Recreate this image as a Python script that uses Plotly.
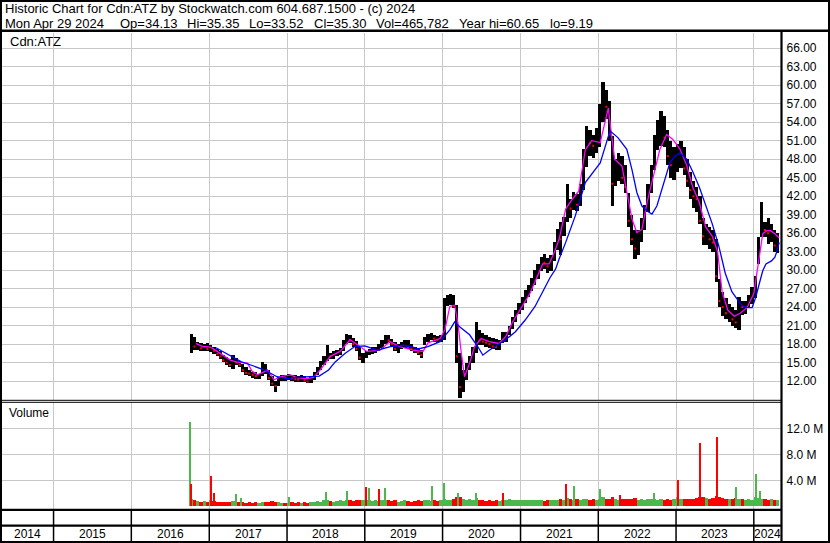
import pandas as pd
import plotly.graph_objects as go

W, H = 830, 543
FONT = "Arial, Liberation Sans, sans-serif"
GRID = "#c8c8c8"

def px(x):
    return x / W

def py(y):
    return 1 - y / H

# ---------------- data ----------------
title_line1 = "Historic Chart for Cdn:ATZ by Stockwatch.com 604.687.1500 - (c) 2024"
title_fields = ["Mon Apr 29 2024", "Op=34.13", "Hi=35.35", "Lo=33.52", "Cl=35.30", "Vol=465,782", "Year hi=60.65", "lo=9.19"]
title_field_x = [3, 118, 185, 247, 312, 374, 457, 548]   # pixel starts of each field (layout)
symbol = "Cdn:ATZ"

years = list(range(2014, 2025))
x_range = ["2014-05-04", "2024-05-10"]
price_ticks = [12, 15, 18, 21, 24, 27, 30, 33, 36, 39, 42, 45, 48, 51, 54, 57, 60, 63, 66]
volume_ticks = [4, 8, 12]
volume_tick_text = ["4.0 M", "8.0 M", "12.0 M"]

# semi-monthly periods, Oct 2016 .. Apr 2024
period_start = pd.date_range("2016-10-01", "2024-04-15", freq="SMS")
last_period_end = pd.Timestamp("2024-04-30")

high = [
    19.6, 19.2, 18.3, 18.1, 18.0, 18.1,
    17.9, 17.5, 17.2, 16.8, 16.3, 15.9, 15.6, 16.2, 15.8, 15.3, 14.8, 14.2, 13.8, 13.5, 13.4, 13.2, 15.1, 14.8, 13.8, 12.8, 12.0, 12.7, 13.0, 13.0,
    13.2, 13.0, 12.9, 12.8, 12.9, 12.8, 12.5, 12.6, 13.4, 14.2, 15.2, 16.0, 17.8, 16.6, 16.8, 17.0, 17.4, 18.6, 19.7, 19.4, 19.0, 18.5, 17.6, 16.6,
    16.9, 17.2, 17.5, 17.6, 18.0, 18.6, 19.5, 19.4, 18.9, 18.3, 18.0, 18.4, 18.6, 18.6, 18.0, 17.6, 17.4, 17.0, 19.2, 19.6, 19.8, 19.5, 19.3, 19.5,
    25.4, 26.0, 26.2, 26.0, 24.4, 16.5, 13.8, 15.0, 16.0, 17.6, 21.6, 20.2, 19.8, 19.4, 19.2, 19.0, 18.8, 18.6, 20.0, 20.0, 21.0, 22.4, 23.6, 24.6,
    25.6, 26.8, 27.6, 28.8, 30.0, 31.0, 32.2, 32.6, 32.0, 32.4, 34.6, 36.6, 37.8, 38.6, 43.9, 41.6, 42.6, 42.4, 44.0, 49.6, 53.4, 52.8, 52.0, 53.0,
    57.0, 60.6, 59.3, 57.5, 51.7, 48.0, 49.0, 48.5, 47.0, 42.5, 39.0, 36.5, 36.5, 38.5, 40.5, 44.0, 47.0, 52.0, 54.4, 55.8, 55.0, 52.8, 51.0, 50.0,
    50.5, 51.0, 50.0, 48.0, 46.0, 44.5, 43.5, 42.0, 38.5, 37.5, 37.0, 36.5, 35.0, 28.5, 26.5, 25.5, 24.5, 24.0, 23.5, 25.7, 25.0, 25.0, 26.0, 27.3,
    29.0, 35.4, 41.1, 37.8, 38.5, 37.5, 36.5, 36.0,
]
low = [
    16.6, 17.0, 17.1, 16.9, 16.9, 16.8,
    16.7, 16.4, 16.0, 15.6, 15.1, 14.6, 14.2, 14.0, 14.6, 14.2, 13.5, 12.9, 12.8, 12.5, 12.4, 12.3, 12.8, 13.2, 12.2, 11.2, 10.3, 11.2, 12.0, 12.0,
    12.2, 12.0, 11.9, 11.8, 11.9, 11.8, 11.6, 11.6, 12.2, 13.0, 13.8, 14.6, 15.2, 15.5, 15.6, 16.0, 16.3, 16.9, 18.0, 18.2, 17.6, 16.8, 15.4, 14.9,
    15.8, 16.2, 16.4, 16.6, 16.8, 17.3, 18.0, 18.2, 17.6, 16.8, 16.6, 17.2, 17.4, 17.2, 16.8, 16.5, 16.2, 15.8, 17.8, 18.4, 18.6, 18.4, 18.2, 18.3,
    18.6, 24.2, 24.4, 23.8, 15.0, 9.2, 10.2, 12.2, 13.8, 15.0, 16.6, 17.8, 17.8, 17.6, 17.4, 17.2, 17.0, 17.0, 18.2, 18.4, 19.4, 20.4, 21.6, 22.8,
    23.6, 24.6, 25.6, 26.6, 27.6, 28.6, 29.8, 30.2, 29.6, 29.8, 31.4, 33.2, 32.4, 35.6, 37.8, 38.4, 39.8, 39.6, 40.4, 43.0, 46.8, 48.6, 48.2, 49.0,
    50.0, 54.0, 54.5, 51.0, 40.4, 43.6, 44.5, 44.0, 42.5, 37.0, 34.0, 31.8, 32.5, 34.5, 36.5, 39.5, 42.5, 46.3, 49.5, 50.1, 50.0, 47.0, 45.0, 44.7,
    46.0, 46.5, 45.5, 43.5, 41.5, 40.0, 39.5, 37.5, 34.0, 34.0, 33.5, 33.0, 28.0, 24.0, 22.5, 22.0, 21.5, 21.0, 20.6, 20.3, 22.7, 22.8, 24.0, 24.5,
    25.5, 31.0, 35.4, 35.4, 34.2, 34.5, 33.0, 32.8,
]
close = [
    18.4, 17.6, 17.6, 17.3, 17.5, 17.2,
    17.2, 16.9, 16.4, 16.0, 15.4, 15.0, 14.6, 15.5, 15.0, 14.6, 13.8, 13.3, 13.2, 13.0, 12.8, 12.9, 14.3, 13.6, 12.5, 11.6, 11.2, 12.4, 12.6, 12.5,
    12.8, 12.4, 12.3, 12.2, 12.4, 12.1, 11.9, 12.3, 13.1, 14.0, 14.9, 15.6, 16.2, 16.0, 16.3, 16.6, 17.1, 18.2, 19.0, 18.6, 18.0, 17.2, 15.8, 16.2,
    16.5, 16.9, 17.0, 17.2, 17.6, 18.2, 19.0, 18.6, 18.0, 17.2, 17.6, 17.9, 18.1, 17.5, 17.2, 17.0, 16.6, 16.2, 18.8, 19.1, 19.2, 18.9, 18.7, 19.0,
    24.8, 25.2, 25.6, 24.2, 16.0, 11.0, 12.8, 14.4, 15.4, 16.8, 19.0, 18.6, 18.4, 18.2, 18.0, 17.6, 17.5, 17.8, 19.0, 19.6, 20.6, 22.0, 23.2, 24.2,
    25.0, 26.2, 27.0, 28.2, 29.2, 30.4, 31.6, 31.2, 30.6, 31.8, 33.8, 35.8, 35.0, 38.0, 40.6, 40.0, 41.2, 40.6, 43.2, 48.6, 51.0, 50.6, 50.2, 51.6,
    56.0, 57.5, 56.5, 52.0, 44.0, 46.5, 47.0, 45.0, 43.5, 38.0, 35.0, 33.5, 35.0, 37.5, 39.5, 43.0, 46.0, 50.5, 52.5, 53.5, 51.5, 48.5, 47.0, 48.0,
    48.5, 49.0, 46.5, 44.5, 43.0, 42.0, 41.5, 38.0, 35.5, 36.0, 35.0, 34.5, 29.0, 25.0, 24.0, 23.0, 23.5, 22.0, 21.5, 24.5, 24.0, 24.2, 25.5, 26.8,
    28.0, 34.5, 38.5, 36.5, 36.0, 36.5, 34.0, 35.3,
]
# typical daily volume per period (millions)
volume = [
    1.2, 0.9, 0.8, 0.7, 0.8, 0.6,
    0.9, 0.8, 0.7, 0.6, 0.6, 0.7, 0.6, 0.8, 0.6, 0.7, 0.6, 0.5, 0.6, 0.5, 0.6, 0.5, 0.7, 0.6, 0.6, 0.8, 0.7, 0.6, 0.5, 0.5,
    0.5, 0.6, 0.5, 0.6, 0.5, 0.6, 0.5, 0.6, 0.7, 0.8, 0.7, 0.9, 1.0, 0.8, 0.7, 0.8, 0.9, 0.8, 1.0, 0.9, 0.8, 0.9, 1.0, 0.9,
    1.0, 0.9, 0.8, 0.9, 0.8, 0.9, 1.0, 0.9, 0.8, 0.9, 0.7, 0.8, 0.9, 0.8, 0.7, 0.8, 0.9, 0.8, 1.0, 0.9, 0.8, 0.9, 0.8, 0.9,
    1.2, 1.0, 0.9, 1.1, 1.4, 1.5, 1.2, 1.0, 1.1, 1.0, 1.3, 1.0, 0.9, 0.8, 0.9, 0.8, 0.9, 0.8, 0.9, 1.0, 1.1, 1.0, 0.9, 1.0,
    1.0, 0.9, 1.0, 0.9, 1.0, 0.9, 1.0, 0.8, 0.9, 1.0, 0.9, 1.0, 1.1, 1.0, 1.3, 1.1, 1.0, 1.1, 1.0, 1.2, 1.1, 1.0, 1.1, 1.0,
    1.2, 1.4, 1.1, 1.2, 1.4, 1.1, 1.0, 1.1, 1.2, 1.1, 1.2, 1.3, 1.0, 1.1, 1.0, 1.1, 1.2, 1.1, 1.0, 1.1, 1.0, 1.1, 1.0, 1.1,
    1.4, 1.2, 1.1, 1.2, 1.1, 1.2, 1.3, 1.5, 1.4, 1.3, 1.2, 1.3, 1.6, 1.5, 1.3, 1.2, 1.1, 1.2, 1.3, 1.2, 1.1, 1.0, 1.1, 1.0,
    1.5, 1.3, 1.2, 1.1, 1.0, 1.1, 1.0, 1.0,
]
# single-day volume spikes
spike_dates = ["2016-10-03", "2016-10-06", "2017-01-10", "2017-01-24", "2017-05-05", "2017-06-01",
               "2018-01-10", "2018-07-05", "2018-10-10", "2019-01-05", "2019-01-20", "2019-03-10",
               "2019-04-05", "2019-11-15", "2020-01-10", "2020-03-15", "2020-06-05", "2020-10-10",
               "2021-08-05", "2021-09-10", "2022-01-10", "2022-04-15", "2022-09-20", "2023-01-10",
               "2023-04-25", "2023-07-13", "2023-10-10", "2024-01-12", "2024-01-30"]
spike_volume = [13.0, 3.4, 4.6, 2.1, 1.9, 1.3,
                1.5, 2.2, 2.3, 3.0, 2.8, 2.6,
                2.8, 3.2, 3.6, 2.1, 2.0, 2.0,
                3.4, 3.1, 2.7, 1.8, 2.1, 4.0,
                9.8, 10.7, 3.0, 5.0, 2.4]
spike_up = [True, False, False, False, True, True,
            True, True, True, False, True, False,
            True, True, True, True, True, False,
            False, True, True, False, True, False,
            False, False, True, True, True]

ma_short_dates = ["2016-10-30", "2016-12-01", "2017-01-08", "2017-02-10", "2017-03-11", "2017-04-10", "2017-05-05",
                  "2017-06-01", "2017-06-30", "2017-07-20", "2017-08-15", "2017-09-10", "2017-10-01", "2017-11-01",
                  "2017-12-02", "2018-01-18", "2018-02-20", "2018-04-05", "2018-05-05", "2018-06-06", "2018-07-23",
                  "2018-09-07", "2018-10-24", "2018-12-09", "2019-01-10", "2019-02-10", "2019-03-13", "2019-04-29",
                  "2019-06-14", "2019-08-15", "2019-10-01", "2019-10-25", "2019-12-02", "2019-12-20", "2020-01-12",
                  "2020-02-04", "2020-02-27", "2020-03-13", "2020-03-29", "2020-04-13", "2020-05-07", "2020-05-30",
                  "2020-06-30", "2020-08-07", "2020-09-22", "2020-10-23", "2020-11-22", "2020-12-30", "2021-02-14",
                  "2021-03-15", "2021-04-15", "2021-05-15", "2021-06-10", "2021-07-01", "2021-08-01", "2021-09-01",
                  "2021-10-01", "2021-11-01", "2021-12-01", "2022-01-10", "2022-02-17", "2022-03-05", "2022-03-19",
                  "2022-04-22", "2022-05-15", "2022-06-08", "2022-07-01", "2022-07-25", "2022-08-18", "2022-09-16",
                  "2022-10-17", "2022-11-18", "2022-12-17", "2023-01-20", "2023-02-20", "2023-03-20", "2023-04-20",
                  "2023-05-20", "2023-06-20", "2023-07-15", "2023-08-05", "2023-09-01", "2023-10-01", "2023-10-29",
                  "2023-11-30", "2024-01-01", "2024-01-26", "2024-02-12", "2024-03-01", "2024-03-20", "2024-04-09",
                  "2024-04-29"]
ma_short = [18.1, 17.6, 17.5, 16.7, 16.0, 15.4, 15.1,
            15.0, 14.9, 13.6, 13.0, 13.4, 13.8, 12.2,
            12.7, 13.0, 12.5, 12.4, 12.6, 13.8, 16.0,
            16.8, 18.7, 17.6, 16.8, 16.9, 17.0, 18.4,
            17.6, 17.0, 16.8, 18.2, 18.7, 18.9, 20.3,
            24.1, 24.3, 21.4, 16.5, 12.7, 14.9, 17.6,
            18.9, 18.4, 18.1, 19.2, 21.4, 23.5, 26.2,
            28.5, 31.0, 31.0, 33.0, 35.0, 39.9, 41.5,
            42.8, 49.5, 51.0, 50.7, 56.3, 51.7, 48.0,
            46.9, 42.6, 38.3, 36.1, 36.6, 41.0, 45.3,
            49.6, 52.0, 51.2, 49.6, 47.0, 43.5, 41.0,
            37.0, 35.5, 33.0, 26.5, 23.5, 22.5, 23.0,
            23.9, 26.2, 32.0, 35.9, 36.4, 36.4, 35.9,
            35.2]

ma_long_dates = ["2017-02-01", "2017-04-01", "2017-06-01", "2017-07-15", "2017-09-15", "2017-11-15", "2018-01-01",
                 "2018-02-15", "2018-05-01", "2018-06-01", "2018-07-15", "2018-08-15", "2018-10-01", "2018-11-15",
                 "2019-01-01", "2019-03-01", "2019-05-01", "2019-07-01", "2019-08-15", "2019-09-08", "2019-10-24",
                 "2019-12-20", "2020-02-04", "2020-02-27", "2020-03-21", "2020-05-07", "2020-06-14", "2020-07-08",
                 "2020-08-07", "2020-09-22", "2020-10-23", "2020-12-08", "2021-01-23", "2021-03-10", "2021-04-15",
                 "2021-05-20", "2021-06-15", "2021-07-01", "2021-08-01", "2021-09-15", "2021-11-01", "2022-01-10",
                 "2022-02-25", "2022-04-03", "2022-05-15", "2022-06-08", "2022-07-01", "2022-07-25", "2022-08-18",
                 "2022-09-10", "2022-10-03", "2022-11-01", "2022-12-03", "2022-12-27", "2023-01-20", "2023-02-20",
                 "2023-03-20", "2023-04-20", "2023-05-20", "2023-06-20", "2023-07-20", "2023-08-20", "2023-09-20",
                 "2023-10-29", "2023-11-14", "2023-11-30", "2023-12-24", "2024-01-10", "2024-01-26", "2024-02-12",
                 "2024-02-27", "2024-03-24", "2024-04-09", "2024-04-19", "2024-04-29"]
ma_long = [17.4, 16.2, 15.1, 14.6, 13.8, 12.7, 12.4,
           12.6, 12.7, 12.8, 13.8, 15.1, 16.5, 17.6,
           17.7, 17.0, 17.6, 17.8, 17.5, 17.2, 17.6,
           18.4, 20.3, 21.6, 20.8, 19.5, 17.6, 16.2,
           17.0, 18.1, 18.7, 20.0, 21.9, 24.1, 26.5,
           28.8, 30.2, 31.8, 34.5, 38.8, 44.2, 47.4,
           52.6, 51.5, 49.6, 46.3, 42.6, 40.4, 39.6,
           39.1, 40.4, 43.6, 47.4, 48.5, 49.0, 48.0,
           46.0, 43.5, 40.5, 37.5, 34.0, 29.5, 26.5,
           24.6, 24.1, 23.9, 23.9, 25.6, 27.7, 29.9,
           31.0, 31.5, 32.1, 33.1, 34.5]

# ---------------- derived positions ----------------
starts = list(period_start)
ends = starts[1:] + [last_period_end]
centers = [s + (e - s) / 2 for s, e in zip(starts, ends)]
widths = [(e - s).total_seconds() * 1000 for s, e in zip(starts, ends)]
prev_close = [close[0]] + close[:-1]
is_up = [c >= p for c, p in zip(close, prev_close)]

GREEN = "#4cb84c"
RED = "#ff0000"

fig = go.Figure()

fig.add_trace(go.Bar(
    x=centers, y=[h - l for h, l in zip(high, low)], base=low, width=widths,
    marker=dict(color="black", line=dict(width=0)), xaxis="x", yaxis="y", hoverinfo="skip",
))
fig.add_trace(go.Scatter(
    x=[c for c, u in zip(centers, is_up) if not u],
    y=[v for v, u in zip(close, is_up) if not u],
    mode="markers", marker=dict(symbol="square", size=2, color=RED, line=dict(width=0)),
    xaxis="x", yaxis="y", hoverinfo="skip",
))
fig.add_trace(go.Scatter(x=ma_short_dates, y=ma_short, mode="lines",
                         line=dict(color="#ff00ff", width=1.3), xaxis="x", yaxis="y", hoverinfo="skip"))
fig.add_trace(go.Scatter(x=ma_long_dates, y=ma_long, mode="lines",
                         line=dict(color="#0000ff", width=1.3), xaxis="x", yaxis="y", hoverinfo="skip"))

fig.add_trace(go.Bar(
    x=centers, y=volume, width=widths,
    marker=dict(color=[GREEN if u else RED for u in is_up], line=dict(width=0)),
    xaxis="x2", yaxis="y2", hoverinfo="skip",
))
fig.add_trace(go.Bar(
    x=spike_dates, y=spike_volume, width=[6 * 86400000] * len(spike_dates),
    marker=dict(color=[GREEN if u else RED for u in spike_up], line=dict(width=0)),
    xaxis="x2", yaxis="y2", hoverinfo="skip",
))

year_starts = [f"{y}-01-01" for y in years]
x_dom = [px(2), px(781.5)]
common_x = dict(domain=x_dom, range=x_range, type="date", tickvals=year_starts, showticklabels=False,
                showgrid=True, gridcolor=GRID, gridwidth=1, zeroline=False, showline=False, ticks="")

fig.update_layout(
    width=W, height=H, margin=dict(l=0, r=0, t=0, b=0),
    paper_bgcolor="white", plot_bgcolor="white", showlegend=False,
    barmode="overlay", bargap=0,
    font=dict(family=FONT, color="black"),
    xaxis=dict(anchor="y", **common_x),
    xaxis2=dict(anchor="y2", matches="x", **common_x),
    yaxis=dict(domain=[py(400), py(33)], range=[8.92, 68.48], side="right", anchor="x",
               tickvals=price_ticks, ticktext=[f"{v:.2f}" for v in price_ticks],
               showgrid=True, gridcolor=GRID, gridwidth=1, zeroline=False, showline=False, ticks="",
               tickfont=dict(family=FONT, size=12, color="black"), ticklabelstandoff=4),
    yaxis2=dict(domain=[py(509), py(402)], range=[-0.415, 16.05], side="right", anchor="x2",
                tickvals=volume_ticks, ticktext=volume_tick_text,
                showgrid=True, gridcolor=GRID, gridwidth=1, zeroline=False, showline=False, ticks="",
                tickfont=dict(family=FONT, size=12, color="black"), ticklabelstandoff=4),
)

shapes = []
def hline(y, x0, x1, w):
    shapes.append(dict(type="line", xref="paper", yref="paper", x0=px(x0), x1=px(x1), y0=py(y), y1=py(y),
                       line=dict(color="black", width=w)))

shapes.append(dict(type="rect", xref="paper", yref="paper", x0=px(1), x1=px(829), y0=py(542), y1=py(1),
                   line=dict(color="black", width=2)))
hline(30.8, 0, 830, 2.5)
hline(400.3, 0, 781.5, 1)
hline(402.3, 0, 781.5, 1)
hline(509.8, 0, 781.5, 2.2)
hline(525.7, 0, 781.5, 2.2)
shapes.append(dict(type="line", xref="paper", yref="paper", x0=px(781.5), x1=px(781.5), y0=py(542), y1=py(31),
                   line=dict(color="black", width=2.2)))
for ys in year_starts[1:]:
    shapes.append(dict(type="line", xref="x", yref="paper", x0=ys, x1=ys, y0=py(541), y1=py(510),
                       line=dict(color="black", width=1.5)))
fig.update_layout(shapes=shapes)

ann = []
ann.append(dict(text=title_line1, x=px(3), y=py(8.5), xref="paper", yref="paper", xanchor="left", yanchor="middle",
                showarrow=False, font=dict(family=FONT, size=13, color="black")))
for txt, xx in zip(title_fields, title_field_x):
    ann.append(dict(text=txt, x=px(xx), y=py(23), xref="paper", yref="paper", xanchor="left",
                    yanchor="middle", showarrow=False, font=dict(family=FONT, size=13, color="black")))
ann.append(dict(text=symbol, x=px(8), y=py(41), xref="paper", yref="paper", xanchor="left", yanchor="middle",
                showarrow=False, font=dict(family=FONT, size=13, color="black")))
ann.append(dict(text="Volume", x=px(7), y=py(413), xref="paper", yref="paper", xanchor="left", yanchor="middle",
                showarrow=False, font=dict(family=FONT, size=12, color="black")))
r0, r1 = pd.Timestamp(x_range[0]), pd.Timestamp(x_range[1])
for y in years:
    a = max(pd.Timestamp(f"{y}-01-01"), r0)
    b = min(pd.Timestamp(f"{y + 1}-01-01"), r1)
    ann.append(dict(text=str(y), x=a + (b - a) / 2, y=py(534), xref="x", yref="paper", xanchor="center",
                    yanchor="middle", showarrow=False, font=dict(family=FONT, size=12, color="black")))
fig.update_layout(annotations=ann)

fig.write_html("out.html", config={"displayModeBar": False},
               post_script="document.body.style.margin='0';document.body.style.overflow='hidden';")
